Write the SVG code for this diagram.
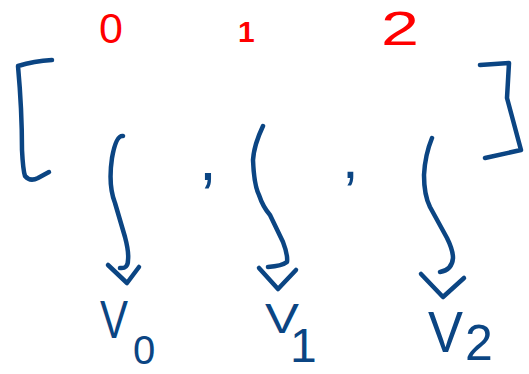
<svg xmlns="http://www.w3.org/2000/svg" width="529" height="374" viewBox="0 0 529 374">
<style>
.ink{fill:none;stroke:#0b4583;stroke-width:4.5;stroke-linecap:round;stroke-linejoin:round}
.idx{fill:#ff0000;font-family:"Liberation Sans",Arial,sans-serif}
.lbl{fill:#0b4583;font-family:"Liberation Sans",Arial,sans-serif}
</style>
<rect width="529" height="374" fill="#ffffff"/>
<g id="indices">
<text class="idx" x="99" y="43" font-size="43">0</text>
<text class="idx" x="238" y="42" font-size="30" font-weight="bold">1</text>
<text class="idx" x="381" y="45" font-size="49" textLength="38" lengthAdjust="spacingAndGlyphs">2</text>
</g>
<g id="bracket-left">
<path class="ink" d="M52,60 Q34,61 18,66 Q22,110 22,150 Q23,170 25,176 Q30,182 38,178 L49,172"/>
</g>
<g id="bracket-right">
<path class="ink" d="M480,65 L509,63 L507,98 L521,150 L485,158"/>
</g>
<g id="commas">
<text class="lbl" x="199" y="180" font-size="64">,</text>
<text class="lbl" x="342" y="178" font-size="60">,</text>
</g>
<g id="connectors">
<path class="ink" d="M123,136 Q116,135 112,158 Q108,185 115,203 L125,237 Q129,252 128,260 Q128,269 120,268"/>
<path class="ink" d="M108,265 L127,283 L139,267"/>
<path class="ink" d="M263,126 Q254,145 253,160 Q254,185 259,195 Q263,207 270,215 L283,242 Q288,255 287,262 Q282,266 268,267"/>
<path class="ink" d="M259,268 L278,289 L296,270"/>
<path class="ink" d="M432,138 Q425,155 424,175 Q424,195 430,207 L447,238 Q453,250 453,258 Q452,270 440,272"/>
<path class="ink" d="M421,274 L443,297 L464,278"/>
</g>
<g id="node-v0">
<text class="lbl" x="100" y="338" font-size="54" textLength="28" lengthAdjust="spacingAndGlyphs">V</text>
<text class="lbl" x="133" y="364" font-size="40">0</text>
</g>
<g id="node-v1">
<text class="lbl" x="265" y="333" font-size="42" textLength="34" lengthAdjust="spacingAndGlyphs">V</text>
<text class="lbl" x="290" y="362" font-size="48">1</text>
</g>
<g id="node-v2">
<text class="lbl" x="428" y="352" font-size="58" textLength="35" lengthAdjust="spacingAndGlyphs">V</text>
<text class="lbl" x="465" y="360" font-size="50">2</text>
</g>
</svg>
